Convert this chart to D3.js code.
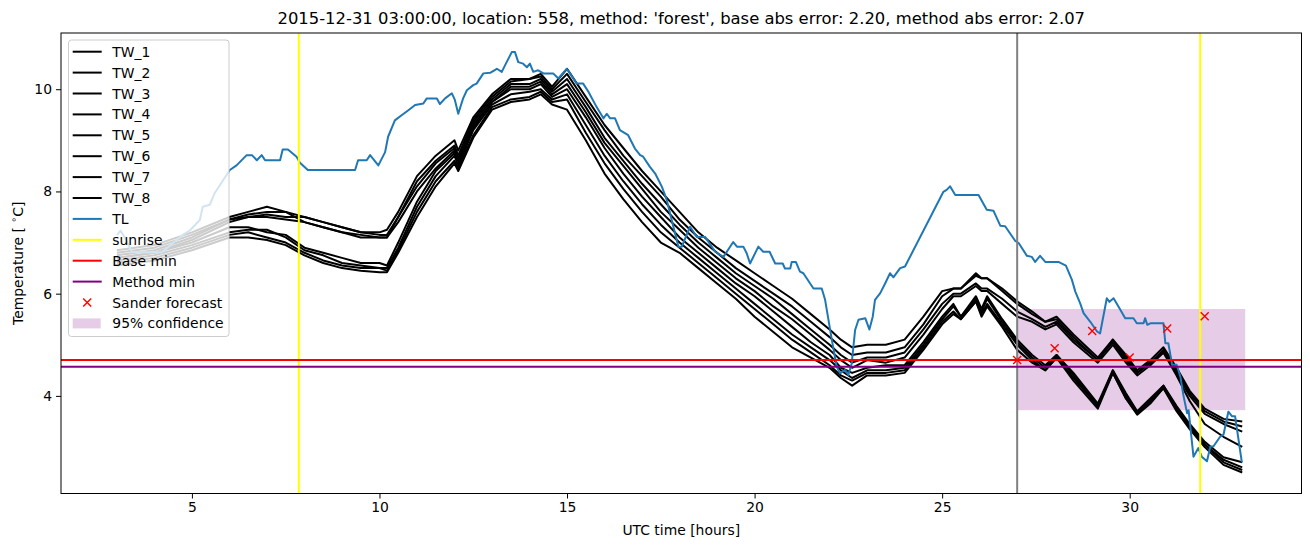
<!DOCTYPE html>
<html><head><meta charset="utf-8">
<script src="https://cdn.jsdelivr.net/npm/d3@7"></script>
<style>body{margin:0;background:#fff} svg{display:block} text{font-family:"DejaVu Sans",sans-serif;fill:#000}</style>
</head><body><svg id="c" width="1310" height="547"></svg>
<script>
// ---------- data ----------
const titleText = "2015-12-31 03:00:00, location: 558, method: 'forest', base abs error: 2.20, method abs error: 2.07";
const xTicks = [5, 10, 15, 20, 25, 30];
const yTicks = [4, 6, 8, 10];

const twHours = [3,4,5,6,6.5,7,7.5,8,8.5,9,9.5,10,10.2,10.5,11,11.5,12,12.1,12.5,13,13.5,14,14.3,14.6,15,15.5,16,16.5,17,17.5,18,18.5,19,19.5,20,20.5,21,21.5,22,22.3,22.6,23,23.5,24,24.5,25,25.3,25.5,25.9,26.05,26.2,26.6,27,27.4,27.75,28.05,28.5,29.15,29.55,29.9,30.2,30.55,30.9,31.25,31.6,32,32.5,33];
const tw1 = [6.85,6.95,7.2,7.5,7.6,7.7,7.6,7.5,7.4,7.3,7.2,7.2,7.25,7.6,8.3,8.7,9.0,8.8,9.45,9.9,10.2,10.2,10.3,10.05,10.4,9.85,9.3,8.85,8.4,8.0,7.6,7.2,6.9,6.65,6.4,6.15,5.9,5.6,5.3,5.1,4.95,5.0,5.0,5.1,5.55,6.05,6.1,6.1,6.4,6.3,6.3,6.1,5.85,5.65,5.45,5.55,5.2,4.75,5.1,4.8,4.5,4.7,4.95,4.55,4.1,3.75,3.55,3.5];
const tw2 = [6.8,6.9,7.15,7.45,7.55,7.6,7.6,7.4,7.3,7.2,7.1,7.1,7.1,7.5,8.2,8.6,8.9,8.7,9.4,9.85,10.15,10.2,10.25,10.0,10.3,9.75,9.2,8.7,8.3,7.9,7.45,7.1,6.8,6.5,6.25,6.0,5.75,5.45,5.15,4.95,4.8,4.85,4.85,4.95,5.4,5.95,6.1,6.1,6.35,6.3,6.3,6.05,5.8,5.6,5.45,5.5,5.15,4.7,5.1,4.75,4.45,4.65,4.9,4.5,4.05,3.7,3.5,3.4];
const tw3 = [6.75,6.85,7.1,7.45,7.5,7.55,7.5,7.5,7.4,7.3,7.2,7.15,7.15,7.5,8.1,8.55,8.85,8.65,9.35,9.8,10.1,10.1,10.2,9.95,10.2,9.65,9.05,8.6,8.15,7.75,7.35,7.0,6.7,6.4,6.15,5.9,5.6,5.3,5.0,4.8,4.65,4.75,4.75,4.85,5.3,5.8,6.0,6.0,6.2,6.1,6.1,5.9,5.65,5.5,5.35,5.45,5.1,4.7,5.05,4.7,4.45,4.65,4.85,4.45,4.0,3.65,3.45,3.3];
const tw4 = [6.7,6.8,7.05,7.4,7.5,7.5,7.45,7.4,7.3,7.2,7.15,7.1,7.1,7.4,8.0,8.45,8.8,8.6,9.3,9.75,10.05,10.05,10.15,9.9,10.1,9.55,8.95,8.5,8.05,7.6,7.25,6.9,6.6,6.3,6.05,5.75,5.5,5.2,4.9,4.7,4.55,4.7,4.65,4.75,5.2,5.7,5.95,5.95,6.15,6.05,6.05,5.8,5.55,5.45,5.3,5.4,5.05,4.65,5.0,4.65,4.4,4.6,4.85,4.4,3.9,3.45,3.2,3.0];
const tw5 = [6.7,6.8,7.0,7.3,7.3,7.2,7.15,6.9,6.8,6.7,6.6,6.6,6.55,7.0,7.8,8.4,8.75,8.55,9.25,9.75,10.0,10.0,10.1,9.85,10.0,9.45,8.85,8.35,7.9,7.5,7.1,6.8,6.5,6.2,5.95,5.65,5.35,5.05,4.8,4.55,4.45,4.55,4.6,4.6,5.05,5.55,5.8,5.55,5.95,5.7,5.95,5.5,5.1,4.8,4.6,4.8,4.45,3.85,4.5,4.05,3.7,3.95,4.2,3.8,3.45,3.1,2.8,2.7];
const tw6 = [6.65,6.75,6.95,7.2,7.25,7.25,7.1,6.85,6.75,6.6,6.55,6.5,6.5,6.9,7.7,8.3,8.7,8.5,9.2,9.7,9.9,9.95,10.0,9.8,9.9,9.3,8.7,8.2,7.75,7.35,7.0,6.7,6.4,6.1,5.8,5.5,5.2,4.95,4.7,4.5,4.35,4.5,4.5,4.55,5.0,5.5,5.75,5.55,5.9,5.65,5.9,5.45,5.05,4.75,4.55,4.8,4.4,3.8,4.5,4.0,3.68,3.9,4.2,3.75,3.4,3.05,2.75,2.6];
const tw7 = [6.6,6.7,6.9,7.15,7.2,7.1,7.0,6.8,6.65,6.55,6.5,6.5,6.45,6.85,7.6,8.2,8.6,8.45,9.1,9.65,9.8,9.85,9.95,9.75,9.8,9.15,8.55,8.05,7.6,7.2,6.9,6.6,6.3,6.0,5.7,5.4,5.1,4.85,4.6,4.4,4.3,4.45,4.45,4.5,4.95,5.45,5.65,5.5,5.85,5.6,5.8,5.4,5.0,4.7,4.5,4.75,4.35,3.8,4.45,3.95,3.65,3.9,4.15,3.75,3.4,3.05,2.7,2.55];
const tw8 = [6.55,6.65,6.85,7.1,7.1,7.05,6.95,6.75,6.6,6.5,6.45,6.42,6.42,6.8,7.5,8.1,8.55,8.4,9.05,9.6,9.75,9.8,9.9,9.7,9.6,9.0,8.35,7.85,7.4,7.0,6.8,6.5,6.2,5.9,5.55,5.25,4.95,4.75,4.55,4.35,4.2,4.4,4.4,4.45,4.9,5.4,5.6,5.5,5.85,5.55,5.75,5.35,4.9,4.65,4.5,4.75,4.3,3.75,4.45,3.95,3.63,3.85,4.15,3.7,3.35,3.0,2.65,2.5];
const twSeries = [tw1, tw2, tw3, tw4, tw5, tw6, tw7, tw8];
const twNames = ["TW_1","TW_2","TW_3","TW_4","TW_5","TW_6","TW_7","TW_8"];

const tlHours = [3.00,3.10,3.25,3.40,4.20,4.76,4.95,5.21,5.29,5.48,5.61,6.01,6.19,6.46,6.60,6.73,6.86,6.95,7.35,7.42,7.56,7.79,7.88,8.09,9.35,9.43,9.66,9.75,9.97,10.15,10.23,10.41,10.59,10.77,10.95,11.17,11.26,11.53,11.61,11.75,11.93,12.01,12.10,12.23,12.33,12.50,12.59,12.77,12.95,13.13,13.26,13.39,13.53,13.61,13.70,13.83,13.93,14.01,14.10,14.23,14.37,14.63,14.77,14.99,15.08,15.26,15.43,15.57,15.79,15.97,16.06,16.15,16.28,16.41,16.63,16.81,16.95,17.03,17.21,17.35,17.53,17.66,17.79,17.97,18.06,18.28,18.46,18.68,18.95,19.17,19.43,19.53,19.70,19.79,19.88,20.10,20.23,20.40,20.55,20.75,20.81,20.95,20.99,21.10,21.21,21.30,21.57,21.79,21.88,22.06,22.19,22.28,22.41,22.50,22.59,22.68,22.77,22.95,23.06,23.15,23.21,23.35,23.48,23.61,23.70,23.88,24.01,25.03,25.12,25.21,25.35,25.97,26.19,26.37,26.55,26.68,26.95,27.04,27.26,27.39,27.48,27.61,27.75,28.10,28.30,28.46,28.55,28.68,28.77,28.95,29.13,29.21,29.39,29.46,29.57,29.70,29.88,30.10,30.19,30.37,30.41,30.47,30.55,30.90,30.95,31.03,31.13,31.25,31.35,31.43,31.53,31.57,31.70,31.83,31.92,32.06,32.15,32.23,32.41,32.50,32.63,32.73,32.81,32.99];
const tlValues = [7.15,7.23,7.05,6.81,6.81,7.15,7.24,7.44,7.70,7.74,7.97,8.42,8.51,8.71,8.71,8.61,8.71,8.61,8.61,8.82,8.82,8.68,8.56,8.42,8.42,8.61,8.61,8.71,8.51,8.77,9.07,9.39,9.49,9.59,9.69,9.72,9.82,9.82,9.71,9.82,9.92,9.79,9.52,9.82,9.98,10.08,10.11,10.31,10.32,10.40,10.34,10.53,10.73,10.73,10.53,10.50,10.43,10.50,10.34,10.37,10.31,10.31,10.21,10.40,10.31,10.11,10.11,9.95,9.65,9.43,9.52,9.43,9.43,9.20,9.10,8.84,8.71,8.68,8.48,8.35,8.09,7.83,7.44,6.92,6.92,7.31,7.11,7.11,6.82,6.72,7.01,6.92,6.92,6.79,6.59,6.92,6.82,6.82,6.59,6.59,6.49,6.49,6.62,6.62,6.43,6.40,6.10,6.10,5.88,5.09,4.57,4.44,4.51,4.41,4.64,5.29,5.49,5.52,5.30,5.55,5.88,6.01,6.20,6.40,6.32,6.50,6.53,7.99,8.03,8.10,7.93,7.93,7.64,7.62,7.33,7.32,7.03,6.99,6.74,6.72,6.62,6.74,6.62,6.62,6.55,6.27,6.04,5.81,5.62,5.45,5.26,5.22,5.91,5.84,5.91,5.75,5.52,5.52,5.42,5.42,5.52,5.39,5.42,5.42,5.03,5.03,4.61,4.61,4.38,4.02,3.66,3.72,2.81,2.98,2.81,2.72,3.01,3.01,3.20,3.24,3.69,3.60,3.60,2.70];

const sunriseHours = [7.85, 31.88];
const nowHour = 27;
const baseMin = 4.70;
const methodMin = 4.57;
const sanderHours = [27, 28, 29, 30, 31, 32];
const sanderValues = [4.70, 4.93, 5.27, 4.75, 5.32, 5.56];
const confHours = [27, 33.08];
const confLow = 3.72;
const confHigh = 5.70;

const legendLabels = ["TW_1","TW_2","TW_3","TW_4","TW_5","TW_6","TW_7","TW_8","TL","sunrise","Base min","Method min","Sander forecast","95% confidence"];

// ---------- chart ----------
const svg = d3.select("#c");
const L = 61, R = 1301.5, T = 33, B = 493.5;
const x = d3.scaleLinear().domain([1.51, 34.58]).range([L, R]);
const y = d3.scaleLinear().domain([2.09, 11.1]).range([B, T]);

svg.append("defs").append("clipPath").attr("id","clip")
  .append("rect").attr("x",L).attr("y",T).attr("width",R-L).attr("height",B-T);

const plot = svg.append("g").attr("clip-path","url(#clip)");

// band
plot.append("rect")
  .attr("x", x(confHours[0])).attr("width", x(confHours[1]) - x(confHours[0]))
  .attr("y", y(confHigh)).attr("height", y(confLow) - y(confHigh))
  .attr("fill", "purple").attr("fill-opacity", 0.2);

const line = d3.line().x(d => x(d[0])).y(d => y(d[1]));

twSeries.forEach(vals => {
  plot.append("path").datum(twHours.map((h,i) => [h, vals[i]]))
    .attr("d", line).attr("fill","none").attr("stroke","#000")
    .attr("stroke-width", 2).attr("stroke-linejoin","round");
});

plot.append("path").datum(tlHours.map((h,i) => [h, tlValues[i]]))
  .attr("d", line).attr("fill","none").attr("stroke","#1f77b4")
  .attr("stroke-width", 2).attr("stroke-linejoin","round");

sunriseHours.forEach(h => {
  plot.append("line").attr("x1", x(h)).attr("x2", x(h)).attr("y1", T).attr("y2", B)
    .attr("stroke", "yellow").attr("stroke-width", 2);
});
plot.append("line").attr("x1", x(nowHour)).attr("x2", x(nowHour)).attr("y1", T).attr("y2", B)
  .attr("stroke", "gray").attr("stroke-width", 2);

plot.append("line").attr("x1", L).attr("x2", R).attr("y1", y(baseMin)).attr("y2", y(baseMin))
  .attr("stroke", "red").attr("stroke-width", 2);
plot.append("line").attr("x1", L).attr("x2", R).attr("y1", y(methodMin)).attr("y2", y(methodMin))
  .attr("stroke", "purple").attr("stroke-width", 2);

function xMark(g, cx, cy, s) {
  g.append("path").attr("d", `M${cx-s},${cy-s}L${cx+s},${cy+s}M${cx-s},${cy+s}L${cx+s},${cy-s}`)
    .attr("stroke","red").attr("stroke-width",1.4).attr("fill","none");
}
sanderHours.forEach((h,i) => xMark(plot, x(h), y(sanderValues[i]), 4));

// axes
const xAxis = svg.append("g").attr("transform", `translate(0,${B})`)
  .call(d3.axisBottom(x).tickValues(xTicks).tickSize(5).tickPadding(4).tickFormat(d3.format("d")));
const yAxis = svg.append("g").attr("transform", `translate(${L},0)`)
  .call(d3.axisLeft(y).tickValues(yTicks).tickSize(5).tickPadding(4).tickFormat(d3.format("d")));
[xAxis, yAxis].forEach(a => {
  a.select(".domain").remove();
  a.selectAll("text").attr("font-family", '"DejaVu Sans", sans-serif').attr("font-size", 13.9).attr("fill","#000");
  a.selectAll("line").attr("stroke","#000").attr("stroke-width",1);
});

svg.append("rect").attr("x",L).attr("y",T).attr("width",R-L).attr("height",B-T)
  .attr("fill","none").attr("stroke","#000").attr("stroke-width",1);

// labels
svg.append("text").attr("x",(L+R)/2).attr("y",535).attr("text-anchor","middle")
  .attr("font-size",13.9).text("UTC time [hours]");
const yl = svg.append("text").attr("transform",`translate(23,${(T+B)/2}) rotate(-90)`)
  .attr("text-anchor","middle").attr("font-size",13.9);
yl.append("tspan").text("Temperature [ ");
yl.append("tspan").attr("font-size",9.5).attr("dy",-6).text("∘");
yl.append("tspan").attr("dy",6).text("C]");

svg.append("text").attr("x",(L+R)/2).attr("y",24).attr("text-anchor","middle")
  .attr("font-size",16.4).text(titleText);

// legend
const lg = svg.append("g");
lg.append("rect").attr("x",68.5).attr("y",40).attr("width",160.5).attr("height",296.5)
  .attr("rx",3).attr("fill","#fff").attr("fill-opacity",0.8).attr("stroke","#cccccc").attr("stroke-width",1);
const legColors = ["#000","#000","#000","#000","#000","#000","#000","#000","#1f77b4","yellow","red","purple"];
legendLabels.forEach((lab, i) => {
  const cy = 51.7 + i * 20.9;
  if (i < 12) {
    lg.append("line").attr("x1",72.7).attr("x2",101.7).attr("y1",cy).attr("y2",cy)
      .attr("stroke",legColors[i]).attr("stroke-width",2);
  } else if (i === 12) {
    xMark(lg, 87.2, cy, 4);
  } else {
    lg.append("rect").attr("x",72.7).attr("y",cy-5).attr("width",28).attr("height",10)
      .attr("fill","purple").attr("fill-opacity",0.2);
  }
  lg.append("text").attr("x",112.3).attr("y",cy+5).attr("font-size",13.9).text(lab);
});
</script></body></html>
